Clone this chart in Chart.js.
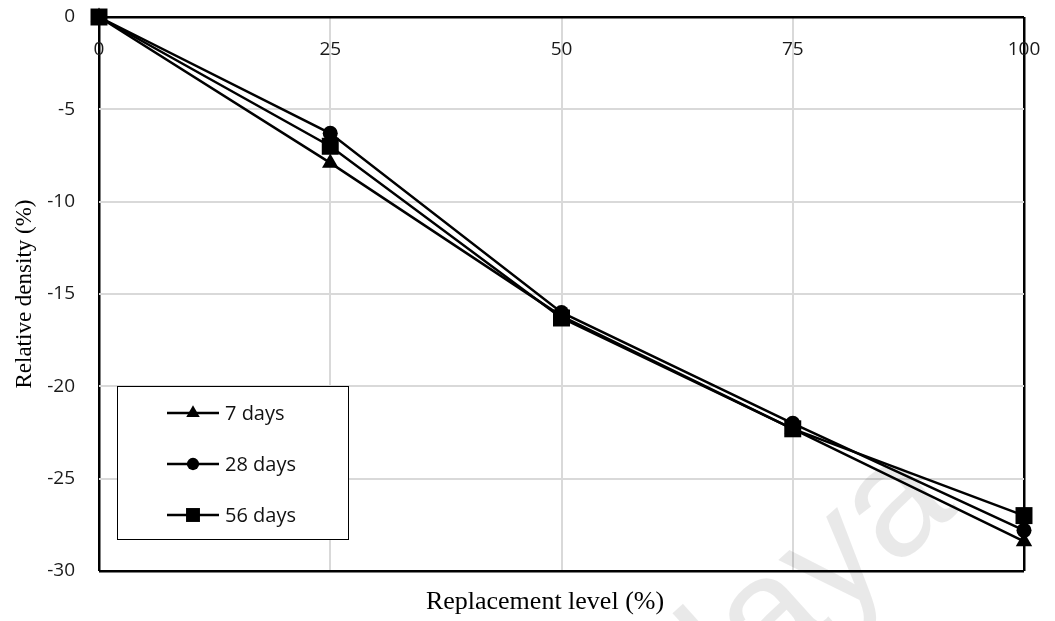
<!DOCTYPE html>
<html>
<head>
<meta charset="utf-8">
<script src="https://cdn.jsdelivr.net/npm/chart.js@4/dist/chart.umd.min.js"></script>
<style>
  html, body { margin: 0; padding: 0; background: #fff; }
  #wrap { width: 1055px; height: 621px; }
</style>
</head>
<body>
<div id="wrap"><canvas id="c" width="1055" height="621"></canvas></div>
<script>
// Replacement level (%) on the x axis
const replacementLevels = [0, 25, 50, 75, 100];
// Relative density (%) per curing age
const density7Days  = [0, -7.9, -16.2, -22.3, -28.4];
const density28Days = [0, -6.3, -16.0, -22.0, -27.8];
const density56Days = [0, -7.0, -16.3, -22.3, -27.0];
const seriesLabels = ['7 days', '28 days', '56 days'];
const xTickValues = [0, 25, 50, 75, 100];
const yTickValues = [0, -5, -10, -15, -20, -25, -30];
const xTitle = 'Replacement level (%)';
const yTitle = 'Relative density (%)';

const sansFamily = '"Open Sans", "Noto Sans", sans-serif';
const serifFamily = '"Liberation Serif", "Times New Roman", serif';
const tickFont = { family: sansFamily, size: 19 };
const frameColor = '#000';
const gridColor = '#d9d9d9';

function toPoints(values) {
  return replacementLevels.map((x, i) => ({ x: x, y: values[i] }));
}

function seriesStyle(style, radius) {
  return {
    borderColor: '#000',
    backgroundColor: '#000',
    borderWidth: 2.5,
    pointStyle: style,
    pointRadius: radius,
    pointHoverRadius: radius,
    pointBorderWidth: 0,
    pointBackgroundColor: '#000',
    tension: 0,
    clip: false
  };
}

// Faint background lettering in the lower right
const watermark = {
  id: 'watermark',
  beforeDatasetsDraw(chart) {
    const ctx = chart.ctx;
    ctx.save();
    ctx.translate(960, 510);
    ctx.rotate(-42 * Math.PI / 180);
    ctx.font = '160px "Liberation Sans", sans-serif';
    ctx.fillStyle = 'rgba(0,0,0,0.085)';
    ctx.textAlign = 'right';
    ctx.textBaseline = 'alphabetic';
    ctx.fillText('Malaya', 0, 0);
    ctx.restore();
  }
};

// Horizontal-axis tick labels sit just under the top edge (y = 0 line),
// and the axis title is centred under the plot.
const axisText = {
  id: 'axisText',
  afterDraw(chart) {
    const ctx = chart.ctx;
    const xs = chart.scales.x;
    ctx.save();
    ctx.font = tickFont.size + 'px ' + sansFamily;
    ctx.fillStyle = '#1a1a1a';
    ctx.textAlign = 'center';
    ctx.textBaseline = 'middle';
    xTickValues.forEach(v => {
      ctx.fillText(String(v), xs.getPixelForValue(v), chart.chartArea.top + 33);
    });
    ctx.font = '26px ' + serifFamily;
    ctx.fillStyle = '#000';
    ctx.fillText(xTitle, 545, 602);
    ctx.restore();
  }
};

// Boxed legend placed inside the plot, lower left
const insideLegend = {
  id: 'insideLegend',
  afterDatasetsDraw(chart) {
    const ctx = chart.ctx;
    const box = { x: 117, y: 386, w: 231, h: 153 };
    ctx.save();
    ctx.fillStyle = '#fff';
    ctx.fillRect(box.x, box.y, box.w, box.h);
    ctx.strokeStyle = '#000';
    ctx.lineWidth = 1;
    ctx.strokeRect(box.x + 0.5, box.y + 0.5, box.w, box.h);
    chart.data.datasets.forEach((ds, i) => {
      const y = 413 + i * 51;
      ctx.strokeStyle = '#000';
      ctx.lineWidth = 2.5;
      ctx.beginPath();
      ctx.moveTo(167, y);
      ctx.lineTo(219, y);
      ctx.stroke();
      ctx.fillStyle = '#000';
      Chart.helpers.drawPoint(ctx, {
        pointStyle: ds.pointStyle,
        radius: ds.pointRadius * 0.82,
        borderWidth: 0,
        rotation: 0
      }, 193, y);
      ctx.font = '20px ' + sansFamily;
      ctx.textAlign = 'left';
      ctx.textBaseline = 'middle';
      ctx.fillStyle = '#111';
      ctx.fillText(ds.label, 225, y + 1);
    });
    ctx.restore();
  }
};

new Chart(document.getElementById('c'), {
  type: 'line',
  data: {
    datasets: [
      Object.assign({ label: seriesLabels[0], data: toPoints(density7Days) }, seriesStyle('triangle', 9.5)),
      Object.assign({ label: seriesLabels[1], data: toPoints(density28Days) }, seriesStyle('circle', 7.5)),
      Object.assign({ label: seriesLabels[2], data: toPoints(density56Days) }, seriesStyle('rect', 12))
    ]
  },
  options: {
    responsive: false,
    animation: false,
    devicePixelRatio: 1,
    layout: { padding: { left: 0, right: 31, top: 17, bottom: 0 } },
    plugins: {
      legend: { display: false },
      tooltip: { enabled: false },
      title: { display: false }
    },
    scales: {
      x: {
        type: 'linear',
        position: 'bottom',
        min: 0,
        max: 100,
        afterBuildTicks(scale) { scale.ticks = xTickValues.map(v => ({ value: v })); },
        ticks: { display: false },
        grid: {
          drawTicks: false,
          color: c => (c.tick && (c.tick.value === 0 || c.tick.value === 100)) ? frameColor : gridColor,
          lineWidth: c => (c.tick && (c.tick.value === 0 || c.tick.value === 100)) ? 2.5 : 2
        },
        border: { display: false },
        afterFit(scale) { scale.height = 50; }
      },
      y: {
        type: 'linear',
        position: 'left',
        min: -30,
        max: 0,
        afterBuildTicks(scale) { scale.ticks = yTickValues.map(v => ({ value: v })); },
        ticks: { color: '#1a1a1a', font: tickFont, padding: 24 },
        grid: {
          drawTicks: false,
          color: c => (c.tick && (c.tick.value === 0 || c.tick.value === -30)) ? frameColor : gridColor,
          lineWidth: c => (c.tick && (c.tick.value === 0 || c.tick.value === -30)) ? 2.5 : 2
        },
        border: { display: false },
        title: {
          display: true,
          text: yTitle,
          color: '#000',
          font: { family: serifFamily, size: 23 },
          padding: { top: 11, bottom: 0 }
        },
        afterFit(scale) {
          scale.width = 99;
          // the label gap should not push the plot edges inward
          scale.paddingTop = 0;
          scale.paddingBottom = 0;
        }
      }
    }
  },
  plugins: [watermark, insideLegend, axisText]
});
</script>
</body>
</html>
